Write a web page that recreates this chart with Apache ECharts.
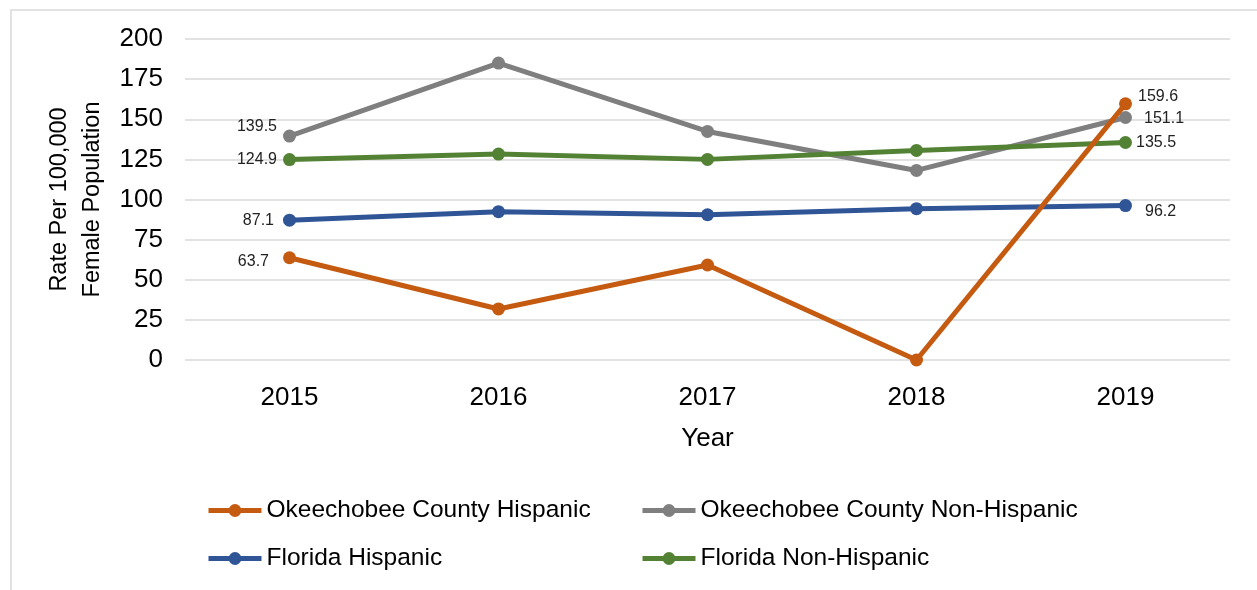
<!DOCTYPE html>
<html>
<head>
<meta charset="utf-8">
<script src="https://cdn.jsdelivr.net/npm/echarts@6/dist/echarts.min.js"></script>
<style>
    html, body { margin: 0; padding: 0; background: #fff; }
    #main { width: 1257px; height: 590px; }
</style>
</head>
<body>
<div id="main"></div>
<script>
// data
var years = ['2015', '2016', '2017', '2018', '2019'];
var okeeHispanic = [63.7, 31.8, 59.2, 0, 159.6];
var okeeNonHispanic = [139.5, 185.0, 142.4, 118.1, 151.1];
var flHispanic = [87.1, 92.4, 90.5, 94.3, 96.2];
var flNonHispanic = [124.9, 128.3, 125.0, 130.6, 135.5];
var seriesNames = ['Okeechobee County Hispanic', 'Okeechobee County Non-Hispanic', 'Florida Hispanic', 'Florida Non-Hispanic'];
var seriesColors = ['#c55a11', '#7f7f7f', '#2f5597', '#548235'];

var FONT = "'Liberation Sans Narrow', 'Arial Narrow', 'Liberation Sans', Arial, sans-serif";

// label placement for first / last point of every series
var labelPlace = [
    [{ position: 'left', distance: 14, offset: [0, 4] }, { position: 'right', distance: 6, offset: [0, -7] }],
    [{ position: 'left', distance: 6, offset: [0, -10] }, { position: 'right', distance: 12, offset: [0, 1] }],
    [{ position: 'left', distance: 9, offset: [0, 0] }, { position: 'right', distance: 13, offset: [0, 6] }],
    [{ position: 'left', distance: 6, offset: [0, 0] }, { position: 'right', distance: 4, offset: [0, 0] }]
];

function makeData(values, idx) {
    return values.map(function (v, i) {
        var item = { value: v };
        if (i === 0 || i === values.length - 1) {
            var p = labelPlace[idx][i === 0 ? 0 : 1];
            item.label = {
                show: true,
                position: p.position,
                distance: p.distance,
                offset: p.offset,
                fontFamily: FONT,
                fontSize: 16,
                color: '#222'
            };
        }
        return item;
    });
}

var allValues = [okeeHispanic, okeeNonHispanic, flHispanic, flNonHispanic];
var series = allValues.map(function (vals, idx) {
    return {
        name: seriesNames[idx],
        type: 'line',
        data: makeData(vals, idx),
        symbol: 'circle',
        symbolSize: 13,
        lineStyle: { width: 5, color: seriesColors[idx] },
        itemStyle: { color: seriesColors[idx] },
        z: idx === 0 ? 5 : 3
    };
});

// one legend per item so the columns line up
var legendPos = [[206, 498], [640, 498], [206, 546], [640, 546]];
var legends = seriesNames.map(function (n, i) {
    return {
        data: [n],
        left: legendPos[i][0],
        top: legendPos[i][1],
        padding: 0,
        itemWidth: 53,
        itemHeight: 16,
        lineStyle: { width: 5 },
        textStyle: { fontFamily: FONT, fontSize: 24.5, color: '#000' }
    };
});

var myChart = echarts.init(document.getElementById('main'));
var option = {
    backgroundColor: '#fff',
    animation: false,
    graphic: [{
        type: 'rect',
        shape: { x: 11, y: 10, width: 1270, height: 600 },
        style: { fill: 'none', stroke: '#d9d9d9', lineWidth: 1.5 },
        silent: true
    }],
    legend: legends,
    grid: { left: 185, right: 27, top: 39, bottom: 230 },
    xAxis: {
        type: 'category',
        data: years,
        boundaryGap: true,
        name: 'Year',
        nameLocation: 'middle',
        nameGap: 66,
        nameTextStyle: { fontFamily: FONT, fontSize: 26, color: '#000' },
        axisLine: { show: false },
        axisTick: { show: false },
        axisLabel: { fontFamily: FONT, fontSize: 26, color: '#000', margin: 25 }
    },
    yAxis: {
        type: 'value',
        min: 0,
        max: 200,
        interval: 25,
        name: 'Rate Per 100,000\nFemale Population',
        nameLocation: 'middle',
        nameRotate: 90,
        nameGap: 68,
        nameTextStyle: { fontFamily: FONT, fontSize: 23.5, color: '#000', lineHeight: 33 },
        axisLine: { show: false },
        axisTick: { show: false },
        axisLabel: { fontFamily: FONT, fontSize: 26, color: '#000', margin: 22 },
        splitLine: { lineStyle: { color: '#d9d9d9', width: 1.5 } }
    },
    series: series
};
myChart.setOption(option);
</script>
</body>
</html>
